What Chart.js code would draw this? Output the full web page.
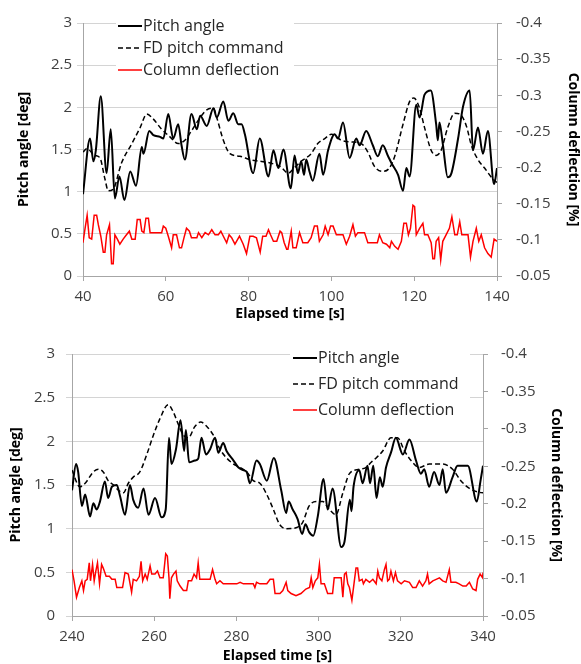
<!DOCTYPE html>
<html>
<head>
<meta charset="utf-8">
<script src="https://cdn.jsdelivr.net/npm/chart.js@4"></script>
<style>
  body { margin: 0; background: #fff; }
  canvas { display: block; }
</style>
</head>
<body>
<canvas id="topChart" width="581" height="332"></canvas>
<canvas id="bottomChart" width="581" height="332"></canvas>
<script>
// series names and axis texts
const seriesNames = ['Pitch angle', 'FD pitch command', 'Column deflection'];
const xTitle = 'Elapsed time [s]';
const leftTitle = 'Pitch angle [deg]';
const rightTitle = 'Column deflection [%]';

// tick labels
const topTimeTicks = [40, 60, 80, 100, 120, 140];
const bottomTimeTicks = [240, 260, 280, 300, 320, 340];
const pitchTicks = [0, 0.5, 1, 1.5, 2, 2.5, 3];
const columnTicks = [-0.4, -0.35, -0.3, -0.25, -0.2, -0.15, -0.1, -0.05];

// top run: [time s, value]
const topPitch = [[40,0.97],[41.7,1.63],[42.5,1.36],[43.1,1.49],[44.3,2.13],[45.7,1.22],[46.7,1.74],[47.7,0.92],[48.8,1.18],[50,0.9],[51.4,1.24],[52.8,1.07],[54.2,1.53],[54.6,1.45],[56,1.72],[57,1.67],[58.6,1.65],[59.4,1.63],[60.6,1.92],[61.8,1.63],[63,1.8],[63.8,1.55],[64.6,1.38],[66.2,1.92],[67.5,1.74],[68.3,1.9],[69.9,1.78],[71.5,1.99],[72.3,1.88],[73.9,2.07],[75.1,1.84],[76.3,1.93],[77.5,1.8],[78.3,1.8],[79.1,1.68],[81.1,1.22],[82.7,1.63],[84.8,1.18],[86,1.49],[87.2,1.28],[88.4,1.5],[90.2,1.04],[91.1,1.43],[91.9,1.22],[92.7,1.36],[93.4,1.2],[93.9,1.38],[94.7,1.24],[95.5,1.13],[97.1,1.45],[98,1.2],[99.2,1.49],[100.8,1.68],[101.6,1.63],[102.8,1.82],[104.4,1.4],[106,1.63],[106.8,1.55],[108.4,1.72],[110,1.55],[111.2,1.42],[112.4,1.55],[113.7,1.42],[114.5,1.34],[116.1,1.2],[117.3,1.01],[118.1,1.28],[118.9,1.18],[120.5,2.03],[121.3,1.88],[122.5,2.15],[124,2.2],[125.3,1.8],[125.7,1.61],[126.1,1.82],[126.9,1.57],[128.1,1.17],[129,1.22],[130.6,1.63],[131.8,2.01],[133.4,2.2],[134.2,1.49],[135.4,1.76],[136.6,1.45],[137.8,1.72],[139.3,1.09],[140,1.28]];
const topCommand = [[40,1.47],[40.9,1.51],[42.9,1.43],[44.1,1.4],[45.3,1.15],[46.1,1.01],[47.3,1.03],[49.3,1.34],[51.8,1.57],[53.8,1.76],[55.4,1.92],[57,1.86],[59,1.74],[61,1.65],[63,1.57],[64.6,1.61],[66.2,1.72],[68.3,1.88],[69.9,1.97],[71.5,1.99],[72.3,1.88],[73.9,1.61],[75.5,1.45],[77.9,1.42],[80.3,1.38],[82.8,1.36],[85.2,1.34],[87.6,1.3],[89.6,1.22],[91,1.28],[92.7,1.36],[95.1,1.45],[96.7,1.57],[98.4,1.63],[100,1.68],[102.4,1.61],[104.8,1.59],[107.2,1.57],[108.8,1.47],[110.4,1.3],[112.4,1.24],[114,1.28],[115.3,1.42],[117.3,1.8],[118.9,2.07],[119.9,2.11],[121.3,1.99],[122.5,1.76],[124.1,1.49],[125.3,1.43],[126.5,1.49],[128.1,1.76],[129.8,1.93],[131,1.92],[132.6,1.78],[133.8,1.55],[135.4,1.38],[137,1.28],[139,1.15],[140,1.11]];
const topColumn = [[40,-0.096],[40.5,-0.116],[41,-0.134],[41.5,-0.103],[42.1,-0.101],[42.7,-0.134],[43.3,-0.134],[43.7,-0.121],[44.3,-0.105],[44.9,-0.083],[45.3,-0.083],[45.7,-0.107],[46.4,-0.121],[46.9,-0.067],[47.3,-0.067],[47.7,-0.107],[48.3,-0.101],[48.9,-0.094],[49.7,-0.101],[50.5,-0.107],[51.2,-0.112],[51.8,-0.101],[52.6,-0.101],[53.1,-0.128],[53.8,-0.128],[54.2,-0.112],[54.7,-0.110],[55.2,-0.130],[55.8,-0.130],[56.2,-0.110],[59,-0.110],[59.4,-0.119],[60,-0.116],[60.6,-0.105],[61.4,-0.089],[61.8,-0.107],[62.6,-0.107],[63.3,-0.089],[63.8,-0.089],[64.4,-0.103],[65,-0.116],[65.7,-0.112],[66.2,-0.103],[67.5,-0.103],[67.9,-0.110],[68.7,-0.103],[69.5,-0.110],[70.3,-0.107],[71.1,-0.114],[71.9,-0.107],[72.7,-0.107],[73.3,-0.112],[73.9,-0.105],[74.7,-0.096],[75.3,-0.107],[75.9,-0.103],[76.7,-0.094],[77.8,-0.105],[78.7,-0.094],[79.5,-0.081],[80.3,-0.105],[81.1,-0.105],[81.9,-0.103],[82.8,-0.083],[83.4,-0.105],[84.2,-0.105],[84.8,-0.114],[85.3,-0.107],[86,-0.098],[86.8,-0.098],[87.6,-0.112],[88,-0.110],[88.6,-0.096],[89.2,-0.087],[89.5,-0.087],[90.3,-0.112],[90.7,-0.089],[91.5,-0.089],[92.3,-0.110],[93.1,-0.096],[94.3,-0.096],[95.1,-0.103],[95.9,-0.119],[96.6,-0.119],[97.1,-0.098],[98,-0.107],[98.5,-0.119],[99.2,-0.107],[99.8,-0.119],[100.4,-0.119],[101.2,-0.107],[102.8,-0.107],[103.6,-0.094],[104.4,-0.105],[105.2,-0.121],[105.8,-0.105],[106.4,-0.110],[108,-0.110],[108.8,-0.096],[111.1,-0.096],[111.6,-0.107],[112.4,-0.096],[113.3,-0.094],[114.1,-0.089],[114.5,-0.098],[115.3,-0.091],[116.1,-0.087],[116.9,-0.098],[117.5,-0.123],[118.1,-0.123],[118.6,-0.107],[119.1,-0.116],[119.7,-0.148],[120.1,-0.146],[120.5,-0.107],[121.3,-0.116],[122.1,-0.123],[122.5,-0.107],[123.3,-0.107],[124.1,-0.096],[124.5,-0.074],[124.9,-0.074],[125.3,-0.098],[125.9,-0.103],[126.4,-0.072],[126.9,-0.098],[127.7,-0.107],[128.5,-0.116],[129.1,-0.132],[129.8,-0.107],[130.4,-0.107],[131,-0.125],[131.5,-0.107],[133,-0.107],[133.6,-0.076],[134.2,-0.098],[135,-0.116],[135.6,-0.098],[136.2,-0.107],[137,-0.089],[137.8,-0.081],[138.6,-0.076],[139.3,-0.101],[140,-0.098]];

// bottom run: [time s, value]
const bottomPitch = [[240,1.44],[241,1.74],[241.5,1.65],[242.4,1.26],[243.2,1.39],[244.4,1.14],[245.2,1.29],[246,1.22],[246.8,1.31],[248,1.54],[248.8,1.35],[249.7,1.48],[250.9,1.5],[251.7,1.37],[252.9,1.16],[254.1,1.5],[254.9,1.33],[256.1,1.24],[257.4,1.46],[258.6,1.16],[260.2,1.35],[261.8,1.13],[262.8,1.22],[263.6,2.04],[264.2,1.74],[265.3,1.91],[266.4,2.24],[267.3,1.89],[267.7,2.13],[268.5,1.76],[269.9,1.78],[270.7,1.8],[271.5,2.04],[272.6,1.85],[273.6,1.91],[274.8,2.04],[275.6,1.87],[276.8,1.98],[277.6,1.89],[279.3,1.78],[280.5,1.7],[281.7,1.67],[282.5,1.65],[283.3,1.52],[284.9,1.78],[285.7,1.74],[287.4,1.55],[289.1,1.81],[290.9,1.44],[292.1,1.18],[292.7,1.31],[293.7,1.22],[294.9,1.11],[296,0.94],[296.8,1.05],[297.7,0.96],[298.7,0.92],[299.8,1.14],[301.2,1.57],[302.2,1.22],[303.4,1.46],[305.5,0.79],[306.3,0.85],[307.6,1.33],[308,1.2],[308.5,1.48],[309.9,1.67],[310.7,1.52],[311.9,1.72],[312.5,1.52],[313.3,1.72],[314.1,1.35],[314.9,1.59],[315.6,1.48],[316.4,1.7],[317.6,1.87],[318.8,2.04],[320.5,1.85],[322.1,2.02],[323.7,1.78],[324.9,1.63],[325.7,1.68],[326.9,1.48],[328.1,1.65],[329.4,1.5],[330.2,1.68],[331,1.41],[332.6,1.59],[333.8,1.72],[336.3,1.72],[338.5,1.31],[339.4,1.55],[340,1.72]];
const bottomCommand = [[240,1.67],[241.9,1.48],[243.2,1.52],[245.2,1.65],[246.4,1.68],[247.6,1.65],[248.8,1.55],[250.1,1.5],[251.3,1.44],[252.5,1.41],[253.7,1.52],[254.9,1.59],[256.5,1.65],[258.2,1.85],[259.8,2.07],[261.4,2.26],[263.4,2.42],[264.7,2.33],[265.9,2.19],[267.1,2.07],[268.3,2.04],[269.9,2.17],[271.3,2.22],[272.8,2.17],[274.4,2.07],[276,1.91],[277.6,1.81],[279.3,1.74],[280.9,1.7],[282.5,1.65],[284.1,1.55],[285.7,1.52],[287.4,1.39],[289,1.22],[290.5,1.05],[292.1,1],[294.5,1.01],[296.1,1.07],[297.7,1.26],[299.4,1.31],[301,1.31],[302.6,1.22],[304.2,1.16],[305.9,1.41],[307.5,1.63],[309.9,1.68],[311.5,1.7],[312.8,1.76],[314,1.81],[315.6,1.89],[317.6,2.04],[319.2,2.04],[320.9,1.89],[322.5,1.78],[324.5,1.7],[326.9,1.74],[330.2,1.74],[332.6,1.68],[334.6,1.55],[336.7,1.46],[338.7,1.42],[340,1.41]];
const bottomColumn = [[240,-0.112],[240.5,-0.097],[241.1,-0.075],[241.8,-0.088],[242.4,-0.097],[242.8,-0.084],[243.2,-0.097],[243.7,-0.099],[244.2,-0.121],[244.5,-0.097],[245,-0.119],[245.4,-0.097],[245.8,-0.110],[246.2,-0.121],[246.7,-0.093],[247.2,-0.119],[247.6,-0.114],[248.3,-0.103],[249.1,-0.103],[249.7,-0.099],[250.5,-0.099],[250.9,-0.088],[252.3,-0.088],[252.9,-0.108],[253.7,-0.106],[254.5,-0.082],[254.9,-0.099],[255.7,-0.097],[256.4,-0.103],[256.8,-0.123],[257.2,-0.097],[257.8,-0.106],[258.3,-0.099],[259,-0.117],[259.4,-0.106],[260.2,-0.106],[260.8,-0.110],[261.4,-0.101],[262.2,-0.101],[262.8,-0.133],[263.2,-0.130],[263.6,-0.101],[263.8,-0.073],[264.2,-0.101],[264.7,-0.106],[265.3,-0.110],[265.6,-0.097],[266.3,-0.090],[267.1,-0.084],[267.9,-0.084],[268.3,-0.097],[269.1,-0.097],[269.7,-0.106],[270.3,-0.101],[270.7,-0.121],[271.1,-0.099],[271.9,-0.099],[273.6,-0.099],[274.2,-0.112],[274.8,-0.099],[275.2,-0.093],[276,-0.097],[276.8,-0.093],[280.1,-0.093],[280.9,-0.095],[281.7,-0.093],[284.1,-0.093],[284.5,-0.088],[284.9,-0.095],[285.7,-0.093],[287.4,-0.093],[288.2,-0.099],[289,-0.099],[289.4,-0.080],[290.6,-0.080],[291.3,-0.084],[292.1,-0.095],[292.5,-0.084],[293.3,-0.080],[294.5,-0.077],[295.7,-0.080],[296.9,-0.086],[297.8,-0.088],[298.2,-0.101],[298.6,-0.088],[299.2,-0.097],[299.8,-0.101],[300.2,-0.119],[300.6,-0.093],[301.4,-0.093],[302.2,-0.080],[303.4,-0.080],[303.8,-0.101],[305.5,-0.101],[305.9,-0.075],[306.3,-0.106],[306.7,-0.108],[307.1,-0.093],[307.5,-0.088],[308.1,-0.071],[308.7,-0.097],[309.1,-0.114],[309.5,-0.114],[309.9,-0.097],[310.6,-0.099],[310.9,-0.093],[311.5,-0.099],[312.4,-0.095],[313.2,-0.099],[314,-0.093],[314.4,-0.110],[314.8,-0.101],[315.4,-0.097],[316,-0.112],[316.4,-0.119],[316.8,-0.097],[317.2,-0.099],[317.6,-0.110],[318.2,-0.097],[318.7,-0.108],[319.2,-0.097],[320.1,-0.093],[320.9,-0.097],[322.1,-0.095],[322.9,-0.088],[323.7,-0.088],[324.5,-0.097],[325.3,-0.090],[326.1,-0.097],[326.5,-0.106],[326.9,-0.093],[327.8,-0.097],[328.6,-0.099],[329.4,-0.101],[330.2,-0.097],[331,-0.095],[331.8,-0.112],[332.2,-0.095],[333.4,-0.095],[334.2,-0.093],[335.1,-0.090],[335.9,-0.090],[336.7,-0.095],[337.5,-0.086],[338.3,-0.084],[338.7,-0.099],[339.3,-0.106],[339.9,-0.101],[340,-0.108]];

Chart.defaults.font.family = "'Open Sans', sans-serif";

const gridColor = '#d4d4d4';
const axisColor = '#a6a6a6';
const tickColor = '#404040';

function toXY(pairs) {
    return pairs.map(p => ({ x: p[0], y: p[1] }));
}

function fixTicks(list) {
    return scale => { scale.ticks = list.map(v => ({ value: v })); };
}

// legend drawn inside the plot on a white box (covers the grid, like the original)
const boxLegend = {
    id: 'boxLegend',
    beforeDatasetsDraw(chart, args, opts) {
        const ctx = chart.ctx;
        ctx.save();
        ctx.fillStyle = '#fff';
        ctx.fillRect(opts.x, opts.y, opts.w, opts.h);
        chart.data.datasets.forEach((ds, i) => {
            const y = opts.first + i * opts.gap;
            ctx.strokeStyle = ds.borderColor;
            ctx.lineWidth = ds.borderWidth;
            ctx.setLineDash(ds.borderDash || []);
            ctx.beginPath();
            ctx.moveTo(opts.lineX, y);
            ctx.lineTo(opts.lineX + 24, y);
            ctx.stroke();
            ctx.setLineDash([]);
            ctx.fillStyle = '#262626';
            ctx.font = "16px 'Open Sans', sans-serif";
            ctx.textBaseline = 'middle';
            ctx.fillText(ds.label, opts.lineX + 25, y);
        });
        ctx.restore();
    }
};

function buildChart(id, p) {
    const ctx = document.getElementById(id).getContext('2d');
    return new Chart(ctx, {
        type: 'line',
        data: {
            datasets: [{
                label: seriesNames[0],
                data: toXY(p.pitch),
                yAxisID: 'y',
                borderColor: '#000000',
                borderWidth: 2,
                cubicInterpolationMode: 'monotone'
            }, {
                label: seriesNames[1],
                data: toXY(p.command),
                yAxisID: 'y',
                borderColor: '#000000',
                borderWidth: 1.5,
                borderDash: [5, 3],
                cubicInterpolationMode: 'monotone'
            }, {
                label: seriesNames[2],
                data: toXY(p.column),
                yAxisID: 'y1',
                borderColor: '#ff0000',
                borderWidth: 1.5,
                tension: 0
            }]
        },
        options: {
            responsive: false,
            animation: false,
            devicePixelRatio: 1,
            elements: { point: { radius: 0 } },
            layout: { padding: { top: p.padTop, left: 0, right: 0, bottom: 0 } },
            plugins: {
                legend: { display: false },
                tooltip: { enabled: false },
                boxLegend: p.legend
            },
            scales: {
                x: {
                    type: 'linear',
                    min: p.xTicks[0],
                    max: p.xTicks[p.xTicks.length - 1],
                    afterBuildTicks: fixTicks(p.xTicks),
                    afterFit: s => { s.height = p.xHeight; },
                    grid: { drawOnChartArea: false, tickLength: 5, color: axisColor },
                    border: { color: axisColor },
                    ticks: { padding: 7, color: tickColor, font: { size: 15 }, maxRotation: 0 },
                    title: { display: true, text: xTitle, color: '#000', font: { size: 14, weight: 'bold' }, padding: { top: 0, bottom: p.xTitlePad } }
                },
                y: {
                    position: 'left',
                    min: 0,
                    max: 3,
                    afterBuildTicks: fixTicks(pitchTicks),
                    afterFit: s => { s.width = p.leftWidth; },
                    grid: { color: gridColor, tickLength: 6 },
                    border: { color: axisColor },
                    ticks: { padding: p.leftTickPad, color: tickColor, font: { size: 15 }, callback: v => String(v) },
                    title: { display: true, text: leftTitle, color: '#000', font: { size: 14, weight: 'bold' }, padding: { top: p.leftTitlePad, bottom: 0 } }
                },
                y1: {
                    position: 'right',
                    reverse: true,
                    min: -0.4,
                    max: -0.05,
                    afterBuildTicks: fixTicks(columnTicks),
                    afterFit: s => { s.width = p.rightWidth; },
                    grid: { drawOnChartArea: false, tickLength: 5, color: axisColor },
                    border: { color: axisColor },
                    ticks: { padding: p.rightTickPad, color: tickColor, font: { size: 15 }, callback: v => String(Number(v.toFixed(2))) },
                    title: { display: true, text: rightTitle, color: '#000', font: { size: 14, weight: 'bold' }, padding: { top: p.rightTitlePad, bottom: 0 } }
                }
            }
        },
        plugins: [boxLegend]
    });
}

buildChart('topChart', {
    pitch: topPitch, command: topCommand, column: topColumn, xTicks: topTimeTicks,
    padTop: 16, xHeight: 56, leftWidth: 83, rightWidth: 84,
    leftTickPad: 5, rightTickPad: 14, xTitlePad: 10, leftTitlePad: 16, rightTitlePad: 0,
    legend: { x: 116, y: 18, w: 178, h: 62, lineX: 118, first: 26, gap: 22 }
});

buildChart('bottomChart', {
    pitch: bottomPitch, command: bottomCommand, column: bottomColumn, xTicks: bottomTimeTicks,
    padTop: 15, xHeight: 48, leftWidth: 72, rightWidth: 98,
    leftTickPad: 11, rightTickPad: 13, xTitlePad: 0, leftTitlePad: 8, rightTitlePad: 17,
    legend: { x: 290, y: 17, w: 180, h: 73, lineX: 293, first: 26, gap: 26 }
});
</script>
</body>
</html>
